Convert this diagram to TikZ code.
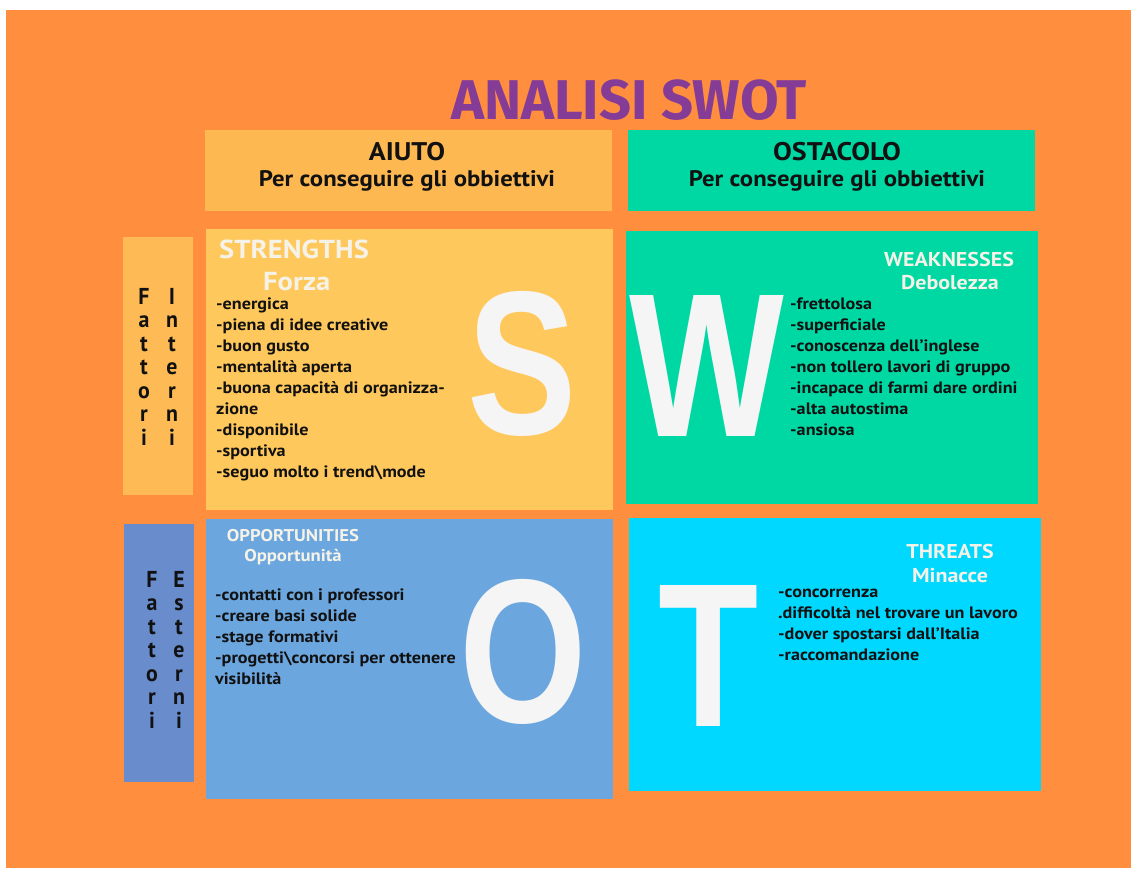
\documentclass[tikz,border=0pt]{standalone}
\usepackage{fontspec}
\usepackage{graphicx}
\setmainfont{PT Sans}[FakeStretch=1.1]
\newfontfamily\vertfont{PT Sans}[FakeStretch=0.95]
\newfontfamily\titlefont{Fira Sans}
\newfontfamily\bigfont{Liberation Sans}[FakeStretch=0.8]
\definecolor{bgorange}{RGB}{255,143,63}
\definecolor{aiutoc}{RGB}{253,184,82}
\definecolor{internic}{RGB}{253,186,85}
\definecolor{strc}{RGB}{255,200,92}
\definecolor{greenc}{RGB}{0,216,164}
\definecolor{oppc}{RGB}{108,166,222}
\definecolor{esternic}{RGB}{104,140,204}
\definecolor{threatc}{RGB}{0,216,255}
\definecolor{titlec}{RGB}{132,60,150}
\definecolor{bigc}{RGB}{245,245,245}
\definecolor{headc}{RGB}{245,242,232}
\definecolor{txtc}{RGB}{17,17,17}
\tikzset{
  box/.style={anchor=north west, inner sep=0pt, outer sep=0pt},
  listtext/.style={anchor=north west, inner sep=0pt, align=left, text=txtc,
     font=\fontsize{16.5}{21}\selectfont\bfseries},
  headtext/.style={text=headc, inner sep=0pt, font=\bfseries},
  colhead/.style={text=txtc, inner sep=0pt, align=center, font=\bfseries},
  bigletter/.style={text=bigc, inner sep=0pt, font=\fontsize{205}{205}\selectfont\bigfont\bfseries},
  vertical/.style={text=txtc, inner sep=0pt, align=center, anchor=north,
     font=\fontsize{23}{23.5}\selectfont\vertfont\bfseries}
}
\begin{document}
\begin{tikzpicture}[x=1pt,y=-1pt]
\useasboundingbox (0,0) rectangle (1131,868);
\fill[white] (0,0) rectangle (1131,868);
\fill[bgorange] (6,10) rectangle (1131,868);
% title
\node[text=titlec, inner sep=0pt, font=\fontsize{56}{56}\selectfont\titlefont\bfseries] (title) at (629,100) {ANALISI SWOT};
% column headers
\node[box, fill=aiutoc, minimum width=407pt, minimum height=81pt] (aiuto) at (205,130) {};
\node[box, fill=greenc, minimum width=407pt, minimum height=81pt] (ostacolo) at (628,130) {};
\node[colhead, font=\fontsize{25.5}{25.5}\selectfont\bfseries] (aiutoA) at (407,152) {AIUTO};
\node[colhead, font=\fontsize{22.5}{22.5}\selectfont\bfseries] (aiutoB) at (407,181) {Per conseguire gli obbiettivi};
\node[colhead, font=\fontsize{25.5}{25.5}\selectfont\bfseries] (ostA) at (837,152) {OSTACOLO};
\node[colhead, font=\fontsize{22.5}{22.5}\selectfont\bfseries] (ostB) at (837,181) {Per conseguire gli obbiettivi};
% row headers
\node[box, fill=internic, minimum width=70pt, minimum height=258pt] (interni) at (123,237) {};
\node[box, fill=esternic, minimum width=70pt, minimum height=258pt] (esterni) at (124,524) {};
\node[vertical] (intF) at (144,288) {F\\a\\t\\t\\o\\r\\i};
\node[vertical] (intI) at (172,288) {I\\n\\t\\e\\r\\n\\i};
\node[vertical] (estF) at (152,571) {F\\a\\t\\t\\o\\r\\i};
\node[vertical] (estE) at (179,571) {E\\s\\t\\e\\r\\n\\i};
% quadrants
\node[box, fill=strc, minimum width=407pt, minimum height=281pt] (S) at (206,229) {};
\node[box, fill=greenc, minimum width=412pt, minimum height=273pt] (W) at (626,231) {};
\node[box, fill=oppc, minimum width=407pt, minimum height=280pt] (O) at (206,519) {};
\node[box, fill=threatc, minimum width=412pt, minimum height=273pt] (T) at (629,518) {};
% big letters
\node[bigletter] (bigS) at (522,364) {S};
\node[bigletter] (bigW) at (707,366) {W};
\node[bigletter] (bigO) at (523,652) {O};
\node[bigletter] (bigT) at (709,656) {T};
% headings
\node[headtext, anchor=west, font=\fontsize{26}{26}\selectfont\bfseries] (sh1) at (219,249) {STRENGTHS};
\node[headtext, anchor=west, font=\fontsize{26}{26}\selectfont\bfseries] (sh2) at (263,282) {Forza};
\node[headtext, font=\fontsize{20}{20}\selectfont\bfseries] (wh1) at (949,259) {WEAKNESSES};
\node[headtext, font=\fontsize{20}{20}\selectfont\bfseries] (wh2) at (950,283) {Debolezza};
\node[headtext, font=\fontsize{17}{17}\selectfont\bfseries] (oh1) at (293,536) {OPPORTUNITIES};
\node[headtext, font=\fontsize{17}{17}\selectfont\bfseries] (oh2) at (293,557) {Opportunità};
\node[headtext, font=\fontsize{20}{20}\selectfont\bfseries] (th1) at (950,551) {THREATS};
\node[headtext, font=\fontsize{20}{20}\selectfont\bfseries] (th2) at (950,576) {Minacce};
% lists
\node[listtext] (slist) at (216,298) {-energica\\-piena di idee creative\\-buon gusto\\-mentalità aperta\\-buona capacità di organizza-\\zione\\-disponibile\\-sportiva\\-seguo molto i trend\textbackslash mode};
\node[listtext] (wlist) at (790,298) {-frettolosa\\-superficiale\\-conoscenza dell’inglese\\-non tollero lavori di gruppo\\-incapace di farmi dare ordini\\-alta autostima\\-ansiosa};
\node[listtext] (olist) at (215,589) {-contatti con i professori\\-creare basi solide\\-stage formativi\\-progetti\textbackslash concorsi per ottenere\\visibilità};
\node[listtext] (tlist) at (778,589) {-concorrenza\\.difficoltà nel trovare un lavoro\\-dover spostarsi dall’Italia\\-raccomandazione};
\end{tikzpicture}
\end{document}
